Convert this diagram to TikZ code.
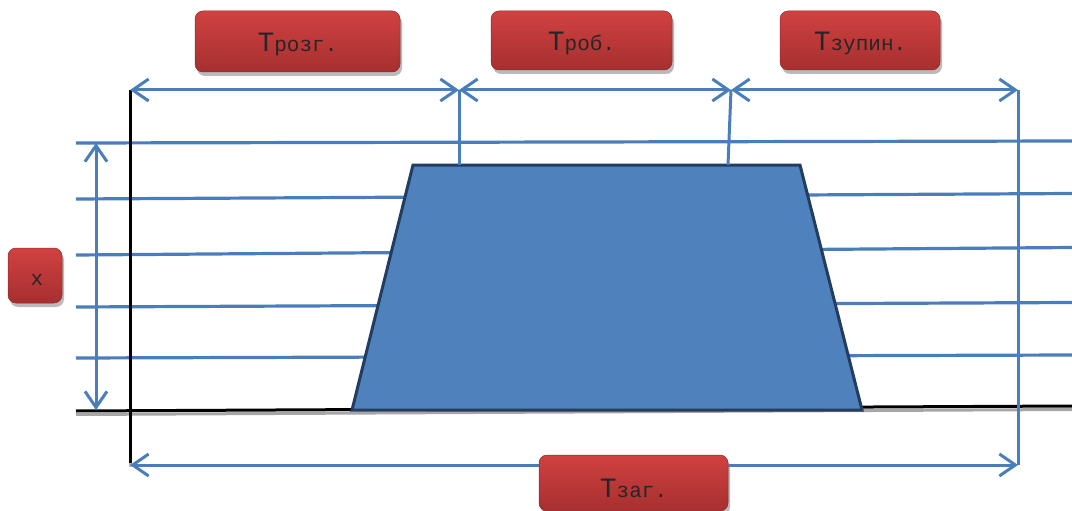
\documentclass[tikz,border=0pt]{standalone}
\usepackage{fontspec}
\newfontfamily\labelfont{Liberation Mono}
\usetikzlibrary{arrows.meta,shadows}

\definecolor{lineblue}{HTML}{4A7EBB}
\definecolor{trapfill}{HTML}{4F81BD}
\definecolor{trapedge}{HTML}{223D60}
\definecolor{redtop}{HTML}{D14141}
\definecolor{redbot}{HTML}{A62F2F}

\newcommand\tlabel[2]{{\labelfont\fontsize{28}{28}\selectfont #1}{\labelfont\fontsize{21}{21}\selectfont #2}}

\tikzset{
  barb/.tip={Straight Barb[length=16pt,width=22pt]},
  dimline/.style={draw=lineblue, line width=3pt, barb-barb},
  guide/.style={draw=lineblue, line width=3pt},
  level/.style={draw=lineblue, line width=3.2pt},
  axis/.style={draw=black, line width=3pt},
  tagbox/.style={rounded corners=8pt, top color=redtop, bottom color=redbot,
    draw=redbot!85!black, line width=0.5pt, inner sep=0pt,
    drop shadow={shadow xshift=2pt, shadow yshift=-4pt, fill=black!45, opacity=0.6}},
  tagtext/.style={anchor=base, inner sep=0pt, text=black!85},
}

\begin{document}
\begin{tikzpicture}[x=1pt, y=-1pt]
  \useasboundingbox (0,0) rectangle (1072,511);

  % horizontal level lines (behind the body)
  \coordinate (l1a) at (76,143); \coordinate (l1b) at (1072,141);
  \coordinate (l2a) at (76,199); \coordinate (l2b) at (1072,193.5);
  \coordinate (l3a) at (76,255); \coordinate (l3b) at (1072,247.5);
  \coordinate (l4a) at (76,307); \coordinate (l4b) at (1072,302.5);
  \coordinate (l5a) at (76,358); \coordinate (l5b) at (1072,355);
  \foreach \i in {1,...,5} \draw[level] (l\i a) -- (l\i b);

  % ground line with its shadow
  \coordinate (g1) at (76,411); \coordinate (g2) at (1072,406);
  \draw[black!35, line width=3pt] ([yshift=-3.5pt]g1) -- ([yshift=-3.5pt]g2);
  \draw[axis] (g1) -- (g2);

  % vertical axis
  \coordinate (ax1) at (130,90); \coordinate (ax2) at (130,465);
  \draw[black!30, line width=3pt] (130,462) -- (130,467);
  \draw[axis] (ax1) -- (130,463);

  % trapezoid body
  \coordinate (tl) at (413,165); \coordinate (tr) at (800,165);
  \coordinate (br) at (862,410); \coordinate (bl) at (352,410);
  \draw[fill=trapfill, draw=trapedge, line width=3pt, line join=miter] (tl) -- (tr) -- (br) -- (bl) -- cycle;

  % guide lines for the time intervals
  \coordinate (t0) at (130,90);
  \coordinate (t1) at (459,90);  \coordinate (t1d) at (459,165);
  \coordinate (t2) at (731,90);  \coordinate (t2d) at (728,165);
  \coordinate (t3) at (1018,90); \coordinate (t3d) at (1018,465);
  \draw[guide] (t1) -- (t1d);
  \draw[guide] (t2) -- (t2d);
  \draw[guide] (t3) -- (t3d);

  % dimension arrows
  \draw[dimline] (t0) -- (t1);
  \draw[dimline] (t1) -- (t2);
  \draw[dimline] (t2) -- (t3);
  \coordinate (b0) at (130,465);
  \draw[dimline] (b0) -- (t3d);
  \coordinate (v0) at (96,143); \coordinate (v1) at (96,410);
  \draw[dimline] (v0) -- (v1);

  % labels
  \node[tagbox, minimum width=205pt, minimum height=61pt] (boxA) at (297.5,41.5) {};
  \node[tagtext] (txtA) at (297.5,52) {\tlabel{Т}{розг.}};

  \node[tagbox, minimum width=181pt, minimum height=59pt] (boxB) at (581.5,40.5) {};
  \node[tagtext] (txtB) at (581.5,51) {\tlabel{Т}{роб.}};

  \node[tagbox, minimum width=160pt, minimum height=59pt] (boxC) at (860,40.5) {};
  \node[tagtext] (txtC) at (860,51) {\tlabel{Т}{зупин.}};

  \node[tagbox, minimum width=54pt, minimum height=55pt] (boxX) at (35,275.5) {};
  \node[tagtext] (txtX) at (37,285) {\labelfont\fontsize{21}{21}\selectfont x};

  \node[tagbox, minimum width=189pt, minimum height=56pt] (boxD) at (633.5,483) {};
  \node[tagtext] (txtD) at (633.5,497) {\tlabel{Т}{заг.}};
\end{tikzpicture}
\end{document}
